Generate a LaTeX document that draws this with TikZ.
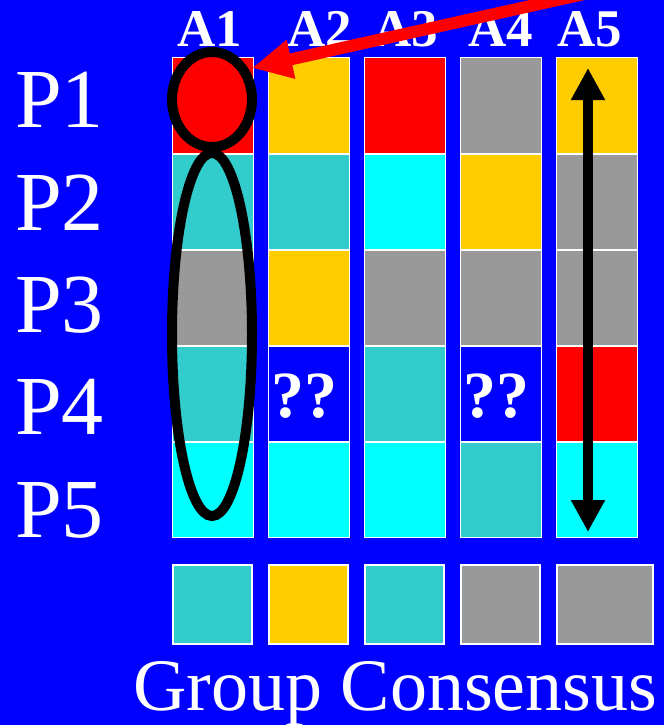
\documentclass[tikz,border=0pt]{standalone}
\usepackage{fontspec}
\setmainfont{Liberation Serif}
\usetikzlibrary{arrows.meta,positioning,shapes.geometric}
\definecolor{bgblue}{RGB}{0,0,255}
\definecolor{cellred}{RGB}{255,0,0}
\definecolor{cellteal}{RGB}{51,204,204}
\definecolor{cellcyan}{RGB}{0,255,255}
\definecolor{cellgray}{RGB}{153,153,153}
\definecolor{cellgold}{RGB}{255,204,0}

\begin{document}
\begin{tikzpicture}[
  x=1pt,y=-1pt,>=Triangle,
  cell/.style={draw=white,line width=1pt,minimum width=81pt,minimum height=95pt,
               inner sep=0pt,anchor=north west},
  vote/.style={draw=white,line width=2pt,minimum width=79pt,minimum height=79pt,
               inner sep=0pt,anchor=north west},
  alabel/.style={text=white,font=\bfseries\fontsize{53}{53}\selectfont,inner sep=0pt,anchor=base west},
  plabel/.style={text=white,font=\fontsize{84}{84}\selectfont,inner sep=0pt,anchor=base west},
  qmark/.style={text=white,font=\bfseries\fontsize{66}{66}\selectfont,inner sep=0pt,anchor=base},
  ring/.style={draw=black,line width=10pt,ellipse,inner sep=0pt}]
  \clip (0,0) rectangle (664,725);
  \fill[bgblue] (0,0) rectangle (664,725);
  % answer grid, one column per attribute
  \foreach \clist [count=\i] in {
      {cellred,cellteal,cellgray,cellteal,cellcyan},
      {cellgold,cellteal,cellgold,bgblue,cellcyan},
      {cellred,cellcyan,cellgray,cellteal,cellcyan},
      {cellgray,cellgold,cellgray,bgblue,cellteal},
      {cellgold,cellgray,cellgray,cellred,cellcyan}}
    \foreach \c [count=\j] in \clist
      \node[cell,fill=\c](cell-\i-\j) at ({171.5+96*(\i-1)},{57.5+96*(\j-1)}){};
  \node[qmark](q2) at ([shift={(-4,24)}]cell-2-4.center){??};
  \node[qmark](q4) at ([shift={(-4,24)}]cell-4-4.center){??};
  % consensus row
  \foreach \c [count=\i] in {cellteal,cellgold,cellteal,cellgray}
    \node[vote,fill=\c](vote-\i) at ({172+96*(\i-1)},564){};
  \node[vote,fill=cellgray,minimum width=96pt](vote-5) at (556,564){};
  % labels
  \foreach \t/\x in {A1/177,A2/287,A3/373,A4/468,A5/557}
    \node[alabel](lbl-\t) at (\x,47){\t};
  \foreach \t/\y in {P1/127,P2/230,P3/332,P4/434,P5/537}
    \node[plabel](lbl-\t) at (15,\y){\t};
  \node[text=white,font=\fontsize{74}{74}\selectfont,inner sep=0pt,anchor=base west](title)
    at (133,710){Group Consensus};
  % highlights
  \node[ring,fill=cellred,minimum width=80pt,minimum height=95pt](pick) at (212,99.5){};
  \node[ring,minimum width=80pt,minimum height=363pt](others) at (212,334.5){};
  \coordinate(src) at (620,-14);
  \coordinate(tip) at (252,68);
  \draw[-{Triangle[length=40pt,width=37pt]},red,line width=12pt](src)--(tip);
  \coordinate(vtop) at (588,68);
  \coordinate(vbot) at (588,532);
  \draw[{Triangle[length=32pt,width=32pt]}-{Triangle[length=32pt,width=32pt]},line width=10pt](vtop)--(vbot);
\end{tikzpicture}
\end{document}
